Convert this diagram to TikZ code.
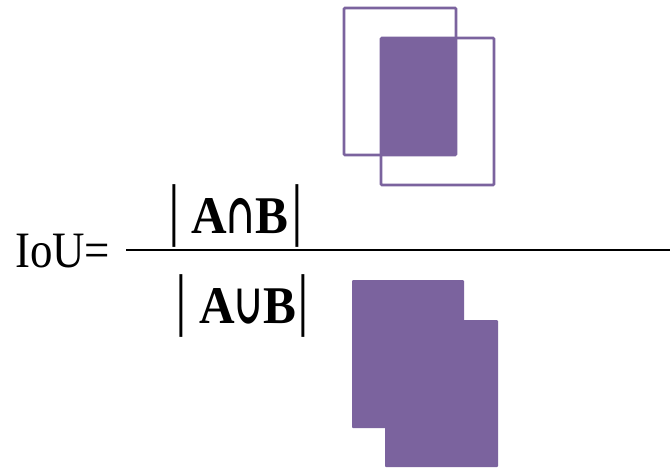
\documentclass[tikz,border=0pt]{standalone}
\usepackage{fontspec}
\setmainfont{Liberation Serif}
\newfontfamily\opfont{DejaVu Serif}
\definecolor{iou}{RGB}{123,99,158}
\newcommand{\setop}[1]{\scalebox{0.65}[1]{\fontsize{56}{60}\selectfont\opfont\bfseries #1}}
\begin{document}
\begin{tikzpicture}[x=1pt,y=-1pt,
  outline/.style={draw=iou, line width=2.8pt, rounded corners=1pt},
  solid/.style={fill=iou, rounded corners=1pt},
  lbl/.style={inner sep=0pt, anchor=base west},
  setname/.style={lbl, xscale=0.93, font=\fontsize{53}{56}\selectfont\bfseries},
  setbar/.style={inner sep=0pt, anchor=base, xscale=0.85, font=\fontsize{69}{72}\selectfont}]
\useasboundingbox (0,0) rectangle (670,469);

% left-hand side
\node[lbl, font=\fontsize{51}{60}\selectfont, xscale=0.88] (lhs) at (15,267) {IoU=};

% fraction rule
\coordinate (r0) at (126,250);
\coordinate (r1) at (670,250);
\draw[line width=2.5pt] (r0) -- (r1);

% numerator |A∩B|
\node[setbar] (nl) at (174,232) {|};
\node[setname] (num) at (191,233) {A\setop{∩}B};
\node[setbar] (nr) at (297,232) {|};

% denominator |A∪B|
\node[setbar] (dl) at (181,322) {|};
\node[setname] (den) at (199,323) {A\setop{∪}B};
\node[setbar] (dr) at (303,322) {|};

% intersection: two outlined boxes with the shared area filled
\fill[solid] (381,38) rectangle (456,155);
\draw[outline] (344,8) rectangle (456,155);
\draw[outline] (381,38) rectangle (494,185);

% union: both boxes filled
\fill[solid] (352,280) rectangle (464,428);
\fill[solid] (385,320) rectangle (498,467);
\end{tikzpicture}
\end{document}
